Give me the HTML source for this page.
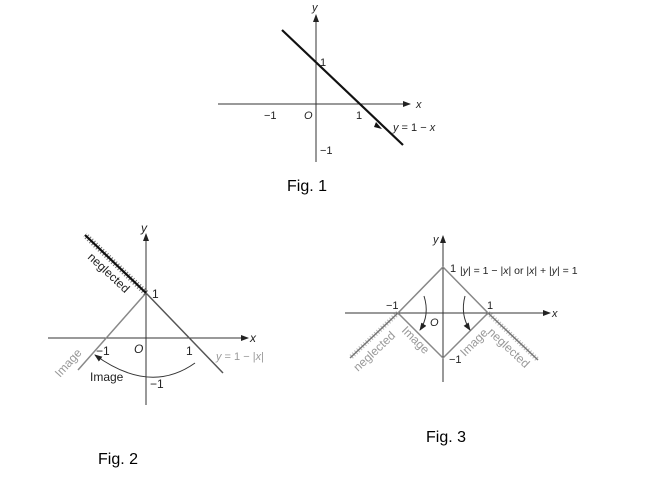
<!DOCTYPE html>
<html><head><style>body{margin:0;background:#fff}svg{display:block}text{font-family:"Liberation Sans",sans-serif}</style></head><body>
<svg width="650" height="504" viewBox="0 0 650 504">
<defs><marker id="a" markerWidth="8" markerHeight="6" refX="7" refY="3" orient="auto"><path d="M0,0L8,3L0,6z" fill="#222"/></marker></defs>
<!-- Fig 1 -->
<g stroke="#333" stroke-width="1">
<line x1="218" y1="104" x2="410" y2="104" marker-end="url(#a)"/>
<line x1="316" y1="162" x2="316" y2="15" marker-end="url(#a)"/>
</g>
<line x1="282" y1="30" x2="403" y2="145" stroke="#111" stroke-width="2.2"/>
<path d="M376,122 l6,7 l-8,-2z" fill="#111"/>
<g font-size="11" fill="#222">
<text x="312" y="11" font-style="italic">y</text><text x="416" y="108" font-style="italic">x</text>
<text x="320" y="66">1</text><text x="356" y="119">1</text><text x="264" y="119">−1</text>
<text x="304" y="119" font-style="italic">O</text><text x="320" y="154">−1</text>
<text x="393" y="131"><tspan font-style="italic">y</tspan> = 1 − <tspan font-style="italic">x</tspan></text>
</g>
<text x="287" y="191" font-size="16">Fig. 1</text>
<!-- Fig 2 -->
<g stroke="#333" stroke-width="1">
<line x1="48" y1="338" x2="248" y2="338" marker-end="url(#a)"/>
<line x1="146" y1="405" x2="146" y2="234" marker-end="url(#a)"/>
</g>
<line x1="146" y1="293" x2="223" y2="373" stroke="#555" stroke-width="1.5"/>
<line x1="146" y1="293" x2="78" y2="370" stroke="#888" stroke-width="1.5"/>
<line x1="146" y1="293" x2="85" y2="235" stroke="#111" stroke-width="2.2"/>
<line x1="146" y1="293" x2="85" y2="235" stroke="#111" stroke-width="6" stroke-dasharray="1 2" opacity=".6"/>
<path d="M195,363 Q150,395 95,355" fill="none" stroke="#333" marker-end="url(#a)"/>
<g font-size="12" fill="#222">
<text x="141" y="232" font-style="italic">y</text><text x="250" y="342" font-style="italic">x</text>
<text x="152" y="298">1</text><text x="186" y="355">1</text><text x="96" y="355">−1</text>
<text x="134" y="353" font-style="italic">O</text><text x="150" y="388">−1</text>
<text x="90" y="381">Image</text>
<text x="216" y="360" fill="#999" font-size="11"><tspan font-style="italic">y</tspan> = 1 − |<tspan font-style="italic">x</tspan>|</text>
<text transform="translate(87,258) rotate(43)">neglected</text>
<text transform="translate(60,378) rotate(-48)" fill="#999">Image</text>
</g>
<text x="98" y="464" font-size="16">Fig. 2</text>
<!-- Fig 3 -->
<g stroke="#333" stroke-width="1">
<line x1="345" y1="313" x2="550" y2="313" marker-end="url(#a)"/>
<line x1="443" y1="382" x2="443" y2="236" marker-end="url(#a)"/>
</g>
<path d="M443,267 L488,313 L443,358 L398,313Z" fill="none" stroke="#888" stroke-width="1.5"/>
<line x1="398" y1="313" x2="350" y2="358" stroke="#777" stroke-width="1.5"/>
<line x1="488" y1="313" x2="538" y2="360" stroke="#777" stroke-width="1.5"/>
<line x1="398" y1="313" x2="350" y2="358" stroke="#777" stroke-width="5" stroke-dasharray="1 2" opacity=".5"/>
<line x1="488" y1="313" x2="538" y2="360" stroke="#777" stroke-width="5" stroke-dasharray="1 2" opacity=".5"/>
<path d="M424,296 Q430,315 420,330" fill="none" stroke="#333" marker-end="url(#a)"/>
<path d="M465,296 Q460,315 470,330" fill="none" stroke="#333" marker-end="url(#a)"/>
<g font-size="11" fill="#222">
<text x="433" y="243" font-style="italic">y</text><text x="552" y="317" font-style="italic">x</text>
<text x="450" y="272">1</text><text x="487" y="309">1</text><text x="386" y="309">−1</text>
<text x="430" y="326" font-style="italic">O</text><text x="449" y="363">−1</text>
<text x="460" y="274" font-size="10.5">|<tspan font-style="italic">y</tspan>| = 1 − |<tspan font-style="italic">x</tspan>|  or  |<tspan font-style="italic">x</tspan>| + |<tspan font-style="italic">y</tspan>| = 1</text>
<g fill="#999" font-size="12">
<text transform="translate(358,372) rotate(-43)">neglected</text>
<text transform="translate(401,331) rotate(45)">Image</text>
<text transform="translate(465,357) rotate(-45)">Image</text>
<text transform="translate(487,333) rotate(43)">neglected</text>
</g></g>
<text x="426" y="442" font-size="16">Fig. 3</text>
</svg>
</body></html>
